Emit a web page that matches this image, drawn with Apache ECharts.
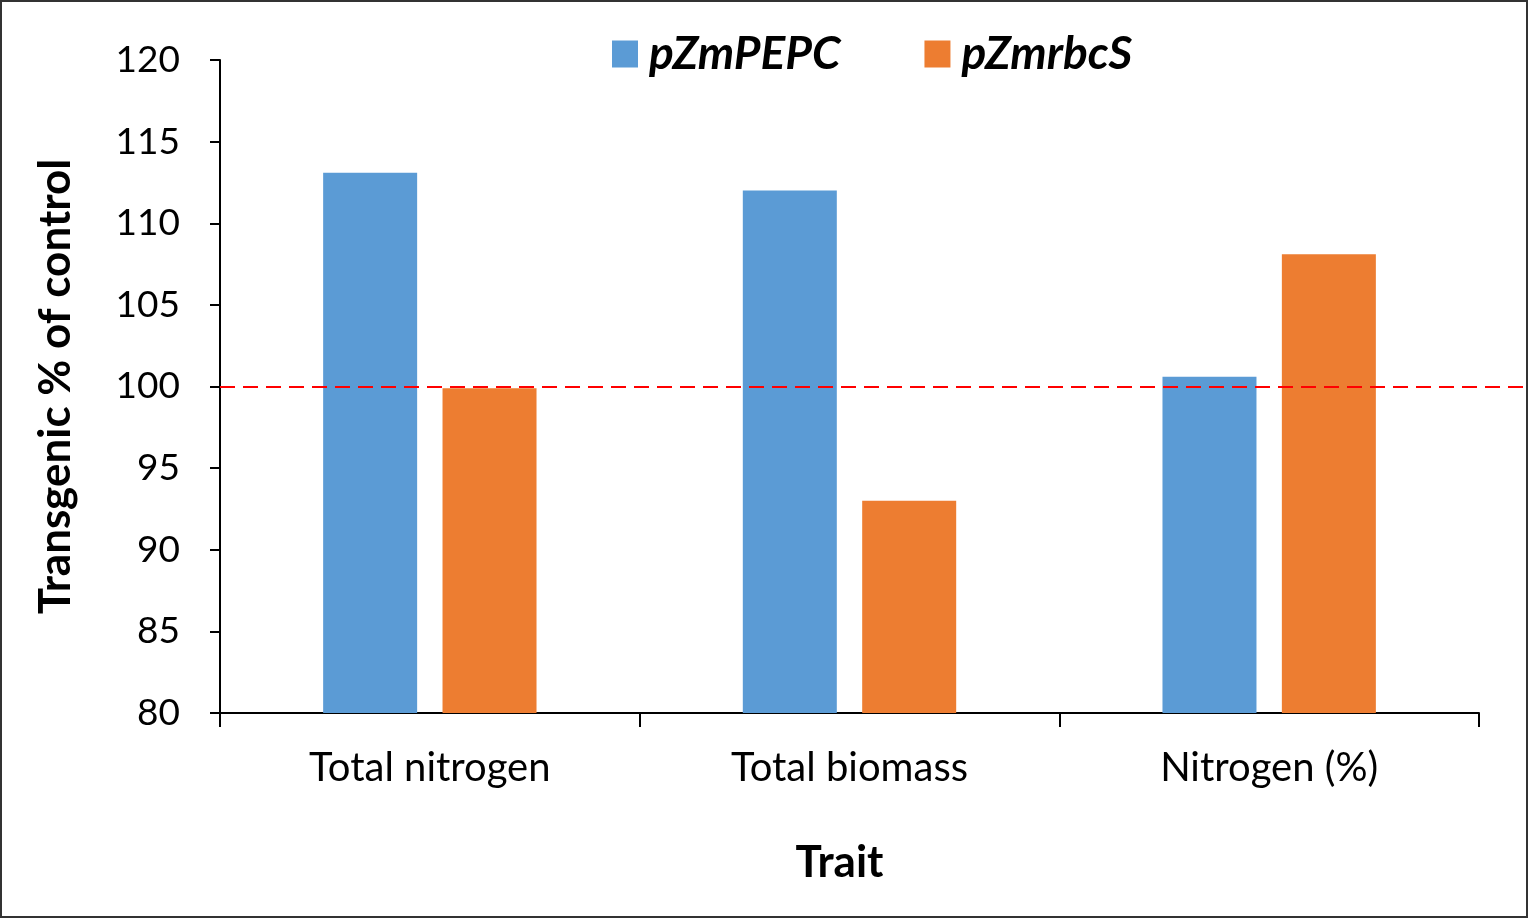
<!DOCTYPE html>
<html><head><meta charset="utf-8">
<script src="https://cdn.jsdelivr.net/npm/echarts@6/dist/echarts.min.js"></script>
<style>html,body{margin:0;padding:0;background:#fff}#c{width:1528px;height:918px;box-sizing:border-box;border:2px solid #333}</style>
</head><body><div id="c"></div>
<script>
const categories = ['Total nitrogen', 'Total biomass', 'Nitrogen (%)'];
const seriesNames = ['pZmPEPC', 'pZmrbcS'];
const pepc = [113.1, 112.0, 100.6];
const rbcs = [99.9, 93.0, 108.1];
const referenceLevel = 100;
const yMin = 80, yMax = 120, yStep = 5;

const font = 'Lato, "Open Sans", sans-serif';
const chart = echarts.init(document.getElementById('c'), null, {renderer: 'canvas'});
chart.setOption({
  animation: false,
  textStyle: {fontFamily: font},
  legend: {
    top: 24, left: 605, itemWidth: 26, itemHeight: 27, itemGap: 84,
    icon: 'rect',
    data: seriesNames,
    textStyle: {fontSize: 46, fontWeight: 'bold', fontStyle: 'italic', color: '#000', fontFamily: font, padding: [0, 0, 0, 6]}
  },
  grid: [{left: 218, right: 47, top: 58, bottom: 203}, {left: 218, right: 0, top: 58, bottom: 203}],
  xAxis: [{
    type: 'category', data: categories, gridIndex: 0,
    axisLine: {lineStyle: {color: '#000', width: 2}},
    axisTick: {show: true, interval: 0, length: 14, lineStyle: {color: '#000', width: 2}},
    axisLabel: {fontSize: 40, color: '#000', margin: 35, fontFamily: font},
    name: 'Trait', nameLocation: 'middle', nameGap: 128,
    nameTextStyle: {fontSize: 44, fontWeight: 'bold', color: '#000', fontFamily: font, padding: [0, 20, 0, 0]}
  }, {
    type: 'category', gridIndex: 1, show: false, data: categories
  }],
  yAxis: [{
    type: 'value', min: yMin, max: yMax, interval: yStep, gridIndex: 0,
    axisLine: {show: true, lineStyle: {color: '#000', width: 2}},
    axisTick: {show: true, length: 10, lineStyle: {color: '#000', width: 2}},
    splitLine: {show: false},
    axisLabel: {fontSize: 37, color: '#000', margin: 40, fontFamily: font},
    name: 'Transgenic % of control', nameLocation: 'middle', nameGap: 142,
    nameTextStyle: {fontSize: 44, fontWeight: 'bold', color: '#000', fontFamily: font}
  }, {
    type: 'value', min: yMin, max: yMax, gridIndex: 1, show: false
  }],
  series: [{
    name: seriesNames[0], type: 'bar', data: pepc, xAxisIndex: 0, yAxisIndex: 0,
    barWidth: 94, barGap: '27%',
    itemStyle: {color: '#5B9BD5'}
  }, {
    name: seriesNames[1], type: 'bar', data: rbcs, xAxisIndex: 0, yAxisIndex: 0,
    barWidth: 94, barGap: '27%',
    itemStyle: {color: '#ED7D31'}
  }, {
    name: 'ref', type: 'line', data: [], xAxisIndex: 1, yAxisIndex: 1, z: 5,
    markLine: {
      silent: true, symbol: 'none', label: {show: false},
      lineStyle: {color: '#FF0000', type: [15, 8], width: 2},
      data: [{yAxis: referenceLevel}]
    }
  }]
});
</script></body></html>
